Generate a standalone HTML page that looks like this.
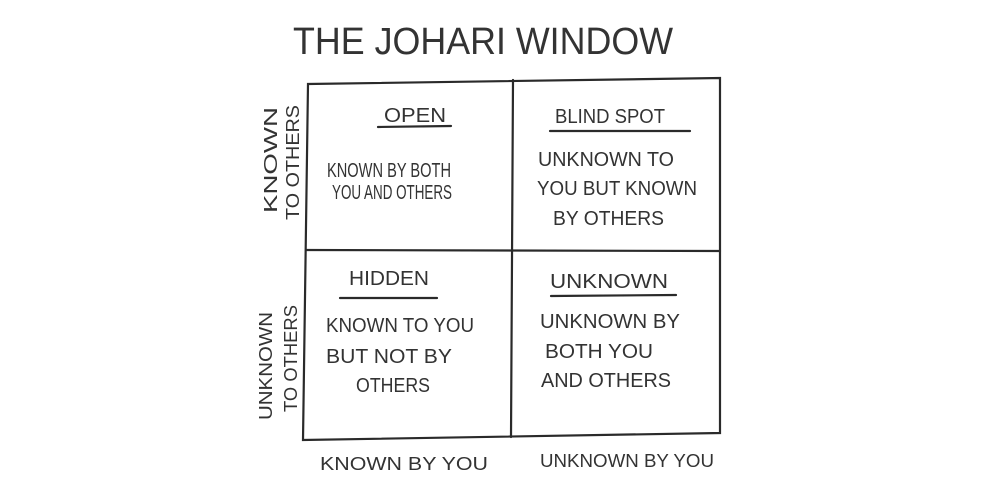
<!DOCTYPE html>
<html><head><meta charset="utf-8"><style>
html,body{margin:0;padding:0;background:#fff;}
svg{display:block}
text{font-family:"Liberation Sans",sans-serif;fill:#333;}
</style></head><body>
<svg width="1000" height="500" viewBox="0 0 1000 500" xmlns="http://www.w3.org/2000/svg">
<g stroke="#2a2a2a" stroke-width="2.2" fill="none" stroke-linecap="round">
<path d="M308 84 L720 78 L720 433 L303 440 Z"/>
<path d="M513 80 L511 437"/>
<path d="M306 250 L720 251"/>
<path d="M378 127 L451 126"/>
<path d="M550 131 L690 131"/>
<path d="M340 298 L437 298"/>
<path d="M551 296 L676 295"/>
</g>
<text x="293" y="54" font-size="38" textLength="380" lengthAdjust="spacingAndGlyphs">THE JOHARI WINDOW</text>
<g font-size="20">
<text x="384" y="122" textLength="62" lengthAdjust="spacingAndGlyphs">OPEN</text>
<text x="555" y="123" textLength="110" lengthAdjust="spacingAndGlyphs">BLIND SPOT</text>
<text x="327" y="177" textLength="124" lengthAdjust="spacingAndGlyphs">KNOWN BY BOTH</text>
<text x="332" y="199" textLength="120" lengthAdjust="spacingAndGlyphs">YOU AND OTHERS</text>
<text x="538" y="166" textLength="136" lengthAdjust="spacingAndGlyphs">UNKNOWN TO</text>
<text x="537" y="195" textLength="160" lengthAdjust="spacingAndGlyphs">YOU BUT KNOWN</text>
<text x="553" y="225" textLength="111" lengthAdjust="spacingAndGlyphs">BY OTHERS</text>
<text x="349" y="285" textLength="80" lengthAdjust="spacingAndGlyphs">HIDDEN</text>
<text x="550" y="288" textLength="118" lengthAdjust="spacingAndGlyphs">UNKNOWN</text>
<text x="326" y="332" textLength="148" lengthAdjust="spacingAndGlyphs">KNOWN TO YOU</text>
<text x="326" y="363" textLength="126" lengthAdjust="spacingAndGlyphs">BUT NOT BY</text>
<text x="356" y="392" textLength="74" lengthAdjust="spacingAndGlyphs">OTHERS</text>
<text x="540" y="328" textLength="140" lengthAdjust="spacingAndGlyphs">UNKNOWN BY</text>
<text x="545" y="358" textLength="108" lengthAdjust="spacingAndGlyphs">BOTH YOU</text>
<text x="541" y="387" textLength="130" lengthAdjust="spacingAndGlyphs">AND OTHERS</text>
</g>
<g font-size="18">
<text x="320" y="470" textLength="168" lengthAdjust="spacingAndGlyphs">KNOWN BY YOU</text>
<text x="540" y="467" textLength="174" lengthAdjust="spacingAndGlyphs">UNKNOWN BY YOU</text>
<text transform="translate(277,213) rotate(-90)" textLength="106" lengthAdjust="spacingAndGlyphs">KNOWN</text>
<text transform="translate(299,220) rotate(-90)" textLength="115" lengthAdjust="spacingAndGlyphs">TO OTHERS</text>
<text transform="translate(272,420) rotate(-90)" textLength="108" lengthAdjust="spacingAndGlyphs">UNKNOWN</text>
<text transform="translate(297,412) rotate(-90)" textLength="107" lengthAdjust="spacingAndGlyphs">TO OTHERS</text>
</g>
</svg>
</body></html>
